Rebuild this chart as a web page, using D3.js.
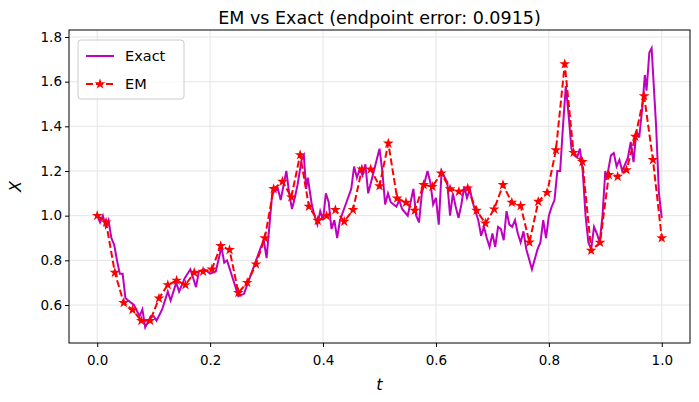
<!DOCTYPE html><html><head><meta charset="utf-8"><script src="https://d3js.org/d3.v7.min.js"></script>
<style>body{margin:0;background:#fff}text{font-family:"DejaVu Sans",sans-serif}</style></head><body><svg id="c" width="699" height="402"></svg><script>
const emValues=[1.00,0.97,0.745,0.61,0.578,0.53,0.53,0.63,0.69,0.71,0.69,0.745,0.75,0.76,0.865,0.847,0.655,0.70,0.783,0.90,1.12,1.153,1.083,1.272,1.041,0.978,0.999,1.026,0.974,1.026,1.208,1.208,1.133,1.324,1.078,1.059,1.023,1.138,1.130,1.19,1.119,1.108,1.123,1.023,0.966,1.029,1.138,1.059,1.044,0.881,1.063,1.103,1.294,1.679,1.282,1.241,0.844,0.88,1.183,1.175,1.205,1.354,1.536,1.25,0.90];
const exactT=[0,0.005,0.01,0.015,0.02,0.025,0.03,0.035,0.04,0.045,0.05,0.055,0.065,0.075,0.08,0.085,0.095,0.1,0.105,0.115,0.125,0.13,0.14,0.145,0.155,0.165,0.175,0.18,0.19,0.2,0.21,0.22,0.225,0.23,0.24,0.25,0.26,0.27,0.28,0.29,0.295,0.3,0.31,0.32,0.325,0.335,0.34,0.345,0.35,0.355,0.362,0.366,0.37,0.373,0.38,0.385,0.39,0.395,0.4,0.405,0.41,0.415,0.42,0.425,0.43,0.44,0.45,0.455,0.46,0.465,0.47,0.475,0.48,0.485,0.49,0.5,0.505,0.51,0.515,0.52,0.53,0.535,0.54,0.55,0.56,0.565,0.57,0.575,0.585,0.59,0.595,0.6,0.605,0.61,0.62,0.625,0.63,0.635,0.64,0.645,0.65,0.655,0.66,0.665,0.67,0.675,0.68,0.685,0.69,0.695,0.7,0.705,0.71,0.715,0.72,0.725,0.73,0.735,0.74,0.745,0.75,0.755,0.76,0.77,0.78,0.785,0.79,0.795,0.8,0.805,0.81,0.815,0.82,0.825,0.83,0.835,0.84,0.845,0.85,0.855,0.86,0.865,0.87,0.875,0.88,0.885,0.89,0.895,0.9,0.902,0.91,0.915,0.92,0.925,0.93,0.94,0.945,0.95,0.955,0.96,0.965,0.97,0.973,0.978,0.982,0.99,0.995,1.0];
const exactX=[1.0,0.97,1.0,0.95,0.98,0.90,0.87,0.80,0.74,0.74,0.63,0.62,0.60,0.55,0.58,0.50,0.55,0.55,0.53,0.58,0.66,0.62,0.70,0.66,0.72,0.76,0.68,0.75,0.76,0.74,0.75,0.86,0.79,0.80,0.72,0.64,0.65,0.72,0.79,0.86,0.89,0.81,1.10,1.12,1.07,1.20,1.10,1.03,1.08,1.14,1.25,1.27,1.12,1.17,1.05,1.00,0.96,1.02,0.98,1.10,1.06,0.94,0.98,0.90,0.98,1.05,1.12,1.22,1.17,1.21,1.18,1.23,1.10,1.15,1.20,1.30,1.20,1.05,1.10,1.06,1.04,1.07,1.03,1.00,1.12,1.00,0.97,1.10,1.20,1.15,1.05,1.08,0.96,1.20,1.15,1.00,1.10,1.04,0.99,1.05,1.13,1.08,1.12,1.06,1.02,0.98,0.91,0.95,0.90,0.86,0.92,0.86,0.95,0.94,0.89,1.02,0.96,0.95,0.98,0.92,0.88,0.93,0.85,0.76,0.85,0.88,0.98,0.90,1.00,1.04,1.07,1.20,1.20,1.40,1.58,1.45,1.30,1.27,1.26,1.30,1.20,1.00,0.88,0.85,0.95,0.92,0.88,1.00,1.20,1.16,1.27,1.28,1.22,1.25,1.20,1.26,1.33,1.24,1.38,1.35,1.47,1.63,1.56,1.73,1.75,1.40,1.10,0.99];
const xTicks=[0,0.2,0.4,0.6,0.8,1.0], yTicks=[0.6,0.8,1.0,1.2,1.4,1.6,1.8];
const svg=d3.select("#c");
const L=69,R=690,T=30,B=343;
const x=d3.scaleLinear().domain([-0.05,1.05]).range([L,R]);
const y=d3.scaleLinear().domain([0.6,1.8]).range([305,37]);
svg.append("g").selectAll("line").data(xTicks).join("line").attr("x1",d=>x(d)).attr("x2",d=>x(d)).attr("y1",T).attr("y2",B).attr("stroke","#e5e5e5");
svg.append("g").selectAll("line").data(yTicks).join("line").attr("y1",d=>y(d)).attr("y2",d=>y(d)).attr("x1",L).attr("x2",R).attr("stroke","#e5e5e5");
const ex=exactT.map((t,i)=>[t,exactX[i]]);
svg.append("path").datum(ex).attr("fill","none").attr("stroke","#bf00bf").attr("stroke-width",2).attr("d",d3.line().x(d=>x(d[0])).y(d=>y(d[1])));
const em=emValues.map((v,i)=>[i/64,v]);
svg.append("path").datum(em).attr("fill","none").attr("stroke","red").attr("stroke-width",2).attr("stroke-dasharray","7,3").attr("d",d3.line().x(d=>x(d[0])).y(d=>y(d[1])));
const star=d3.symbol().type(d3.symbolStar).size(36);
svg.append("g").selectAll("path").data(em).join("path").attr("d",star).attr("fill","red").attr("transform",d=>`translate(${x(d[0])},${y(d[1])})`);
svg.append("rect").attr("x",L).attr("y",T).attr("width",R-L).attr("height",B-T).attr("fill","none").attr("stroke","#000").attr("stroke-width",1);
const xa=svg.append("g").attr("transform",`translate(0,${B})`).call(d3.axisBottom(x).tickValues(xTicks).tickFormat(d3.format(".1f")).tickSize(4));
const ya=svg.append("g").attr("transform",`translate(${L},0)`).call(d3.axisLeft(y).tickValues(yTicks).tickFormat(d3.format(".1f")).tickSize(4));
[xa,ya].forEach(a=>{a.select(".domain").remove();a.selectAll("text").attr("font-size",13.5).attr("fill","#000").style("font-family","DejaVu Sans");});
xa.selectAll("text").attr("dy","1.1em");
svg.append("text").attr("x",(L+R)/2).attr("y",24).attr("text-anchor","middle").attr("font-size",17.5).text("EM vs Exact (endpoint error: 0.0915)");
svg.append("text").attr("x",x(0.5)).attr("y",390).attr("text-anchor","middle").attr("font-size",16).attr("font-style","italic").text("t");
svg.append("text").attr("transform",`translate(21,${(T+B)/2}) rotate(-90)`).attr("text-anchor","middle").attr("font-size",16).attr("font-style","italic").text("X");
const lg=svg.append("g");
lg.append("rect").attr("x",78).attr("y",40).attr("width",106).attr("height",59).attr("rx",3).attr("fill","#fff").attr("fill-opacity",0.8).attr("stroke","#ccc");
lg.append("line").attr("x1",86).attr("x2",114).attr("y1",56).attr("y2",56).attr("stroke","#bf00bf").attr("stroke-width",2);
lg.append("text").attr("x",125).attr("y",61).attr("font-size",14.5).text("Exact");
lg.append("line").attr("x1",86).attr("x2",114).attr("y1",84).attr("y2",84).attr("stroke","red").attr("stroke-width",2).attr("stroke-dasharray","7,3");
lg.append("path").attr("d",star).attr("fill","red").attr("transform","translate(100,84)");
lg.append("text").attr("x",125).attr("y",89).attr("font-size",14.5).text("EM");
</script></body></html>
